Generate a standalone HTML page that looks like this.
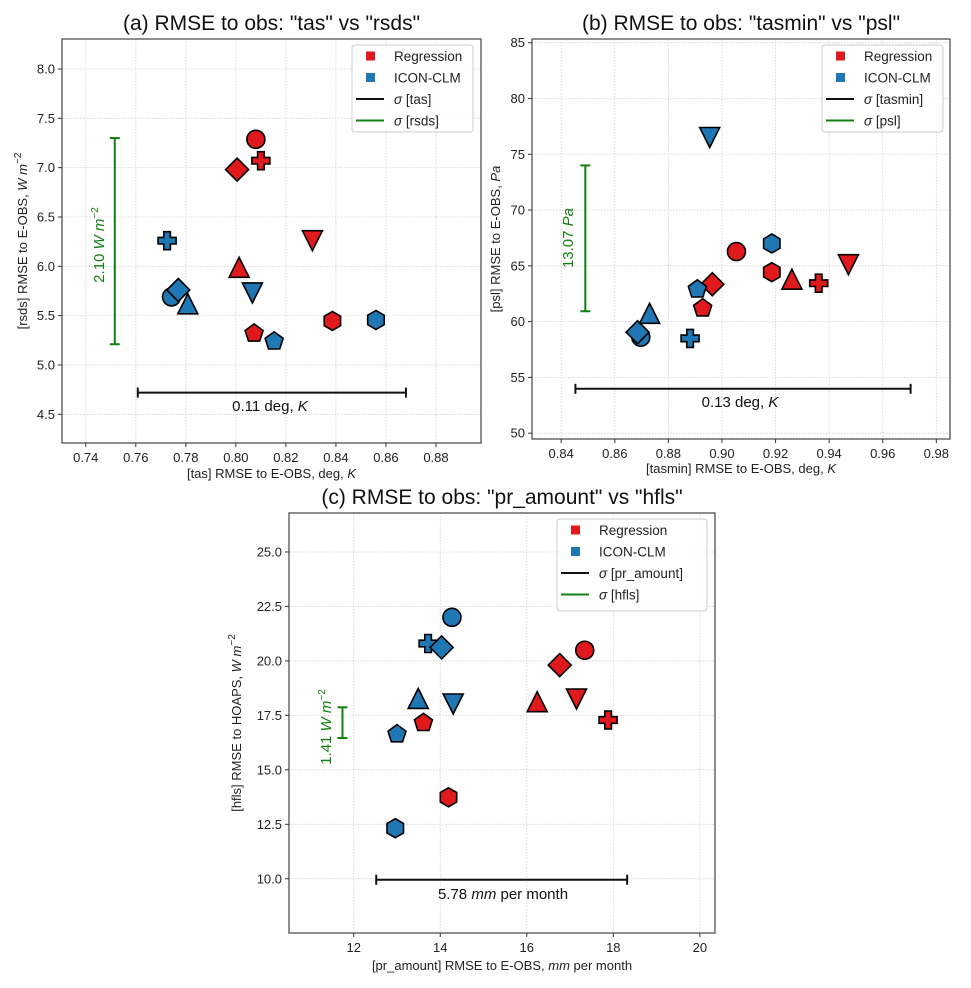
<!DOCTYPE html>
<html><head><meta charset="utf-8"><style>
body{margin:0;background:#fff;}
svg{display:block;font-family:"Liberation Sans","DejaVu Sans",sans-serif;}
</style></head><body>
<svg id="fig" width="971" height="988" viewBox="0 0 971 988" xmlns="http://www.w3.org/2000/svg"></svg>
<script>
// Panel (a) data
const shapes = ["o","P","D","v","^","p","h"];
const aRegX = [0.808,0.810,0.8005,0.8306,0.8013,0.8073,0.8386];
const aRegY = [7.287,7.07,6.98,6.26,5.99,5.32,5.446];
const aIcoX = [0.7743,0.7725,0.777,0.8066,0.7808,0.8153,0.856];
const aIcoY = [5.69,6.26,5.76,5.73,5.62,5.24,5.456];
const aXTicks = [0.74,0.76,0.78,0.80,0.82,0.84,0.86,0.88];
const aYTicks = [4.5,5.0,5.5,6.0,6.5,7.0,7.5,8.0];
// Panel (b) data
const bRegX = [0.9054,0.9361,0.8964,0.9472,0.9261,0.8928,0.9186];
const bRegY = [66.28,63.44,63.35,65.1,63.8,61.2,64.43];
const bIcoX = [0.8697,0.8881,0.8685,0.8954,0.873,0.8908,0.9186];
const bIcoY = [58.6,58.5,59.05,76.5,60.75,62.9,67.0];
const bXTicks = [0.84,0.86,0.88,0.90,0.92,0.94,0.96,0.98];
const bYTicks = [50,55,60,65,70,75,80,85];
// Panel (c) data
const cRegX = [17.34,17.88,16.76,17.15,16.24,13.61,14.19];
const cRegY = [20.49,17.29,19.81,18.25,18.13,17.16,13.74];
const cIcoX = [14.27,13.72,14.03,14.30,13.49,13.0,12.96];
const cIcoY = [22.0,20.8,20.62,18.02,18.28,16.64,12.32];
const cXTicks = [12,14,16,18,20];
const cYTicks = [10.0,12.5,15.0,17.5,20.0,22.5,25.0];

const NS="http://www.w3.org/2000/svg";
const fig=document.getElementById('fig');
function mk(tag,attrs,parent,text){const e=document.createElementNS(NS,tag);for(const k in attrs)e.setAttribute(k,attrs[k]);if(text!==undefined)e.textContent=text;(parent||fig).appendChild(e);return e;}
const RED="#e0191c", BLUE="#1f77b4", GREEN="#108010";

function markerPath(s,cx,cy){
  let pts=[];
  if(s==="o"){const r=9;return `M${cx-r},${cy}A${r},${r} 0 1,0 ${cx+r},${cy}A${r},${r} 0 1,0 ${cx-r},${cy}Z`;}
  if(s==="D"){const d=11.5;pts=[[0,-d],[d,0],[0,d],[-d,0]];}
  else if(s==="^"){const h=10;pts=[[0,-h],[h,h],[-h,h]];}
  else if(s==="v"){const h=10;pts=[[0,h],[h,-h],[-h,-h]];}
  else if(s==="p"){for(let i=0;i<5;i++){const a=-Math.PI/2+i*2*Math.PI/5;pts.push([9.5*Math.cos(a),9.5*Math.sin(a)]);}}
  else if(s==="h"){for(let i=0;i<6;i++){const a=-Math.PI/2+i*Math.PI/3;pts.push([9.5*Math.cos(a),9.5*Math.sin(a)]);}}
  else if(s==="P"){const a=3.3,b=9;pts=[[-a,-b],[a,-b],[a,-a],[b,-a],[b,a],[a,a],[a,b],[-a,b],[-a,a],[-b,a],[-b,-a],[-a,-a]];}
  return "M"+pts.map(p=>(cx+p[0]).toFixed(1)+","+(cy+p[1]).toFixed(1)).join("L")+"Z";
}

function panel(o){
  const g=mk('g',{});
  
  
  const X=v=>o.L+(v-o.xmin)/(o.xmax-o.xmin)*(o.R-o.L);
  const Y=v=>o.B-(v-o.ymin)/(o.ymax-o.ymin)*(o.B-o.T);
  o.xt.forEach(v=>{const l=mk('line',{x1:X(v),x2:X(v),y1:o.T,y2:o.B,stroke:'#d0d0d0','stroke-width':0.8,'stroke-dasharray':'1.5,1.5'},g);});
  o.yt.forEach(v=>{const l=mk('line',{x1:o.L,x2:o.R,y1:Y(v),y2:Y(v),stroke:'#d0d0d0','stroke-width':0.8,'stroke-dasharray':'1.5,1.5'},g);});
  o.xt.forEach(v=>{mk('line',{x1:X(v),x2:X(v),y1:o.B,y2:o.B+4,stroke:'#333','stroke-width':1},g);
    const t=mk('text',{x:X(v),y:o.B+19,'text-anchor':'middle','font-size':13,fill:'#222'},g,o.xf(v));});
  o.yt.forEach(v=>{mk('line',{x1:o.L-4,x2:o.L,y1:Y(v),y2:Y(v),stroke:'#333','stroke-width':1},g);
    const t=mk('text',{x:o.L-7,y:Y(v)+4.5,'text-anchor':'end','font-size':13,fill:'#222'},g,o.yf(v));});
  const gy=X(o.gx), gy1=Y(o.gy1), gy2=Y(o.gy2);
  const gb=mk('g',{stroke:GREEN,'stroke-width':2},g);
  mk('line',{x1:gy,x2:gy,y1:gy1,y2:gy2},gb);mk('line',{x1:gy-5,x2:gy+5,y1:gy1,y2:gy1},gb);mk('line',{x1:gy-5,x2:gy+5,y1:gy2,y2:gy2},gb);
  const gt=mk('text',{x:o.gtx,y:o.gty,'text-anchor':'middle','font-size':15,fill:GREEN,transform:`rotate(-90 ${o.gtx} ${o.gty})`},g);gt.innerHTML=o.gtext;
  
  const by=Y(o.by), bx1=X(o.bx1), bx2=X(o.bx2);
  const bb=mk('g',{stroke:'#111','stroke-width':2},g);
  mk('line',{x1:bx1,x2:bx2,y1:by,y2:by},bb);mk('line',{x1:bx1,x2:bx1,y1:by-5,y2:by+5},bb);mk('line',{x1:bx2,x2:bx2,y1:by-5,y2:by+5},bb);
  const bt=mk('text',{x:o.btx,y:o.bty,'text-anchor':'middle','font-size':15,fill:'#111'},g);bt.innerHTML=o.btext;
  
  [[o.rx,o.ry,RED,'regression'],[o.ix,o.iy,BLUE,'icon-clm']].forEach(([xs,ys,c,n])=>{
    xs.forEach((v,i)=>{const p=mk('path',{d:markerPath(shapes[i],X(v),Y(ys[i])),fill:c,stroke:'#000','stroke-width':1.6,'stroke-linejoin':'miter'},g);
      });
  });
  mk('rect',{x:o.L,y:o.T,width:o.R-o.L,height:o.B-o.T,fill:'none',stroke:'#444','stroke-width':1.2},g);
  const lg=mk('g',{},g);
  mk('rect',{x:o.lx,y:o.ly,width:o.lw,height:o.lh,rx:3,fill:'#fff','fill-opacity':0.85,stroke:'#ccc','stroke-width':1},lg);
  const rows=[["sq",RED,"Regression"],["sq",BLUE,"ICON-CLM"],["ln","#111",o.lb],["ln",GREEN,o.lg]];
  rows.forEach((r,i)=>{const yy=o.ly+11+i*21.5;
    const e=mk('g',{},lg);
    if(r[0]==="sq")mk('rect',{x:o.lx+14,y:yy-4.5,width:9,height:9,fill:r[1]},e);
    else mk('line',{x1:o.lx+4,x2:o.lx+32,y1:yy,y2:yy,stroke:r[1],'stroke-width':2},e);
    const t=mk('text',{x:o.lx+42,y:yy+5,'font-size':13.5,fill:'#222'},e);t.innerHTML=r[2];});
  const xl=mk('text',{x:(o.L+o.R)/2,y:o.xly,'text-anchor':'middle','font-size':13,fill:'#222'},g);xl.innerHTML=o.xlab;
  
  const yc=(o.T+o.B)/2;
  const yl=mk('text',{x:o.ylx,y:yc,'text-anchor':'middle','font-size':13,fill:'#222',transform:`rotate(-90 ${o.ylx} ${yc})`},g);yl.innerHTML=o.ylab;
  
  const ti=mk('text',{x:(o.L+o.R)/2,y:o.T-9,'text-anchor':'middle','font-size':21,fill:'#111'},g,o.title);
  
}
const f2=v=>v.toFixed(2), f1=v=>v.toFixed(1), f0=v=>v.toFixed(0);
const Wm='<tspan font-style="italic">W m</tspan><tspan dy="-6" font-size="10">−2</tspan>';
panel({id:'a',L:62,R:481,T:39,B:443,xmin:0.7305,xmax:0.898,ymin:4.209,ymax:8.304,xt:aXTicks,yt:aYTicks,xf:f2,yf:f1,
  rx:aRegX,ry:aRegY,ix:aIcoX,iy:aIcoY,gx:0.7516,gy1:7.30,gy2:5.21,gtx:104,gty:245,gtext:'2.10 '+Wm,
  by:4.72,bx1:0.7608,bx2:0.868,btx:270,bty:411,btext:'0.11 deg, <tspan font-style="italic">K</tspan>',
  lx:352,ly:45,lw:121,lh:87,lb:'<tspan font-style="italic">σ</tspan> [tas]',lg:'<tspan font-style="italic">σ</tspan> [rsds]',
  xly:478,xlab:'[tas]  RMSE to E-OBS, deg, <tspan font-style="italic">K</tspan>',ylx:27,ylab:'[rsds] RMSE to E-OBS, '+Wm,
  title:'(a) RMSE to obs: "tas" vs "rsds"'});
panel({id:'b',L:532,R:950,T:39,B:439,xmin:0.8291,xmax:0.9851,ymin:49.48,ymax:85.33,xt:bXTicks,yt:bYTicks,xf:f2,yf:f0,
  rx:bRegX,ry:bRegY,ix:bIcoX,iy:bIcoY,gx:0.849,gy1:74.0,gy2:60.93,gtx:573,gty:238,gtext:'13.07 <tspan font-style="italic">Pa</tspan>',
  by:53.98,bx1:0.8453,bx2:0.9704,btx:740,bty:407,btext:'0.13 deg, <tspan font-style="italic">K</tspan>',
  lx:822,ly:45,lw:121,lh:87,lb:'<tspan font-style="italic">σ</tspan> [tasmin]',lg:'<tspan font-style="italic">σ</tspan> [psl]',
  xly:473,xlab:'[tasmin] RMSE to E-OBS, deg, <tspan font-style="italic">K</tspan>',ylx:500,ylab:'[psl] RMSE to E-OBS, <tspan font-style="italic">Pa</tspan>',
  title:'(b) RMSE to obs: "tasmin" vs "psl"'});
panel({id:'c',L:289,R:715,T:513,B:933,xmin:10.504,xmax:20.35,ymin:7.51,ymax:26.79,xt:cXTicks,yt:cYTicks,xf:f0,yf:f1,
  rx:cRegX,ry:cRegY,ix:cIcoX,iy:cIcoY,gx:11.74,gy1:17.87,gy2:16.46,gtx:331,gty:727,gtext:'1.41 '+Wm,
  by:9.955,bx1:12.52,bx2:18.32,btx:503,bty:899,btext:'5.78 <tspan font-style="italic">mm</tspan> per month',
  lx:557,ly:519,lw:150,lh:92,lb:'<tspan font-style="italic">σ</tspan> [pr_amount]',lg:'<tspan font-style="italic">σ</tspan> [hfls]',
  xly:970,xlab:'[pr_amount] RMSE to E-OBS, <tspan font-style="italic">mm</tspan> per month',ylx:241,ylab:'[hfls] RMSE to HOAPS, '+Wm,
  title:'(c) RMSE to obs: "pr_amount" vs "hfls"'});
</script>
</body></html>
